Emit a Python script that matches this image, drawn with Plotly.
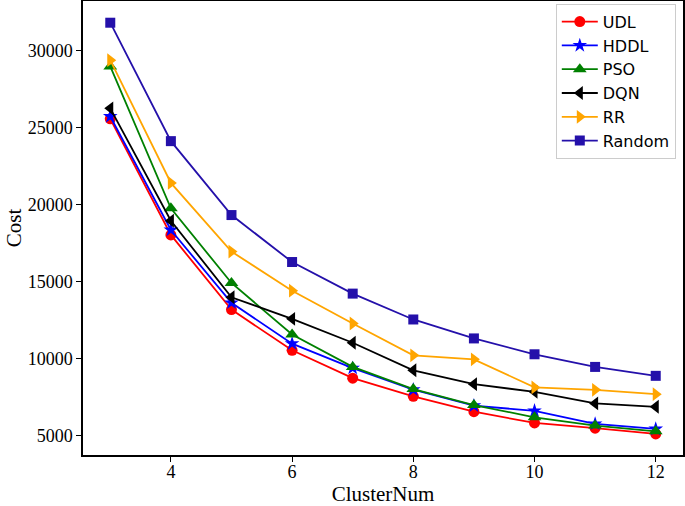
import plotly.graph_objects as go

cluster_num = [3, 4, 5, 6, 7, 8, 9, 10, 11, 12]
udl = [25590, 18050, 13200, 10560, 8750, 7570, 6570, 5840, 5500, 5130]
hddl = [25740, 18370, 13640, 10990, 9400, 8000, 6960, 6630, 5780, 5450]
pso = [28990, 19780, 14930, 11590, 9480, 8040, 7000, 6210, 5670, 5300]
dqn = [26270, 18970, 14000, 12600, 11050, 9260, 8360, 7860, 7110, 6890]
rr = [29400, 21430, 16970, 14430, 12300, 10230, 9970, 8150, 7990, 7710]
rand = [31830, 24140, 19340, 16290, 14240, 12560, 11330, 10300, 9480, 8900]

series = [
    ("UDL", udl, "#ff0000", "circle", 11),
    ("HDDL", hddl, "#0000ff", "star", 11),
    ("PSO", pso, "#008000", "triangle-up", 12),
    ("DQN", dqn, "#000000", "triangle-left", 12),
    ("RR", rr, "#ffa500", "triangle-right", 12),
    ("Random", rand, "#2410aa", "square", 10),
]

fig = go.Figure()
for name, vals, color, sym, sz in series:
    fig.add_trace(go.Scatter(
        x=cluster_num, y=vals, name=name, mode="lines+markers",
        line=dict(color=color, width=1.8),
        marker=dict(symbol=sym, size=sz, color=color, line=dict(width=0)),
    ))

axis_common = dict(
    showline=True, linecolor="black", linewidth=1.5, mirror=True,
    ticks="outside", ticklen=5, tickwidth=1.2, tickcolor="black",
    showgrid=False, zeroline=False, automargin=False,
    tickfont=dict(family="Liberation Serif", size=18, color="black"),
)

fig.update_layout(
    width=685, height=506,
    margin=dict(l=83, r=2, t=1, b=51, autoexpand=False),
    paper_bgcolor="white", plot_bgcolor="white",
    xaxis=dict(range=[2.55, 12.45], tickvals=[4, 6, 8, 10, 12],
               ticklabelstandoff=-5,
               title=dict(text="ClusterNum", standoff=2,
                          font=dict(family="Liberation Serif", size=21, color="black")),
               **axis_common),
    yaxis=dict(range=[3760, 33240], tickvals=[5000, 10000, 15000, 20000, 25000, 30000],
               tickformat="d",
               title=dict(text="Cost", standoff=0,
                          font=dict(family="Liberation Serif", size=21, color="black")),
               **axis_common),
    legend=dict(x=0.988, y=0.994, xanchor="right", yanchor="top",
                bgcolor="rgba(255,255,255,0.8)", bordercolor="#cccccc", borderwidth=1,
                font=dict(family="DejaVu Sans", size=16, color="black"),
                tracegroupgap=0, itemwidth=36),
    showlegend=True,
)

fig.write_html("out.html", config={"displayModeBar": False},
               post_script="document.body.style.margin='0';")
